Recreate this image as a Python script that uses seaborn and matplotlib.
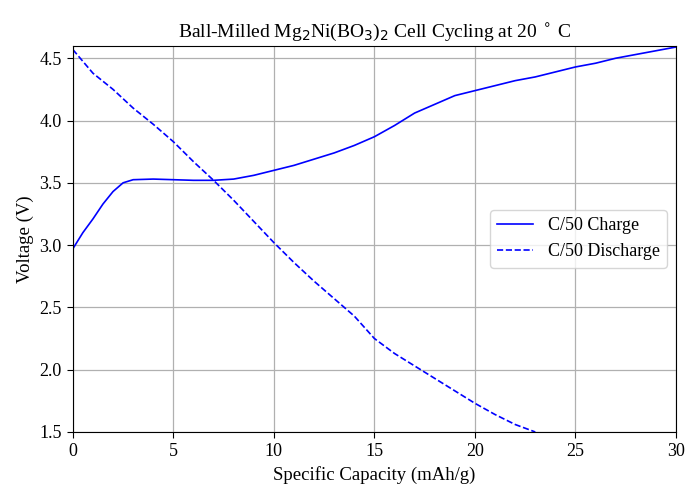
import matplotlib
matplotlib.use("Agg")
import matplotlib.pyplot as plt
import seaborn as sns
import numpy as np

charge_cap = [0, 0.5, 1, 1.5, 2, 2.5, 3, 4, 5, 6, 7, 8, 9, 10, 11, 12, 13, 14, 15, 16, 17, 18, 19, 20, 21, 22, 23, 24, 25, 26, 27, 28, 29, 30]
charge_v = [2.97, 3.1, 3.21, 3.33, 3.43, 3.50, 3.525, 3.53, 3.525, 3.52, 3.52, 3.53, 3.56, 3.6, 3.64, 3.69, 3.74, 3.8, 3.87, 3.96, 4.06, 4.13, 4.2, 4.24, 4.28, 4.32, 4.35, 4.39, 4.43, 4.46, 4.5, 4.53, 4.56, 4.59]

dis_cap = [0, 1, 2, 3, 4, 5, 6, 7, 8, 9, 10, 11, 12, 13, 14, 15, 16, 17, 18, 19, 20, 21, 22, 23]
dis_v = [4.57, 4.38, 4.25, 4.1, 3.97, 3.83, 3.67, 3.52, 3.36, 3.19, 3.02, 2.86, 2.71, 2.57, 2.43, 2.25, 2.13, 2.03, 1.93, 1.83, 1.73, 1.64, 1.56, 1.5]

plt.rcParams['font.family'] = ['Liberation Serif', 'DejaVu Serif']
plt.rcParams['mathtext.fontset'] = 'dejavusans'

fig = plt.figure(figsize=(6.87, 4.87), dpi=100)
ax = fig.add_axes([0.106, 0.113, 0.878, 0.793])

sns.lineplot(x=charge_cap, y=charge_v, ax=ax, color='blue', lw=1.2, sort=False, estimator=None, label='C/50 Charge')
sns.lineplot(x=dis_cap, y=dis_v, ax=ax, color='blue', lw=1.2, linestyle='--', sort=False, estimator=None, label='C/50 Discharge')

ax.set_xlim(0, 30)
ax.set_ylim(1.5, 4.6)
ax.set_xticks([0, 5, 10, 15, 20, 25, 30])
ax.set_yticks([1.5, 2.0, 2.5, 3.0, 3.5, 4.0, 4.5])
ax.grid(True, color='#b0b0b0', lw=0.9)
ax.set_axisbelow(True)
ax.tick_params(labelsize=13, length=4.5)
ax.set_xlabel('Specific Capacity (mAh/g)', fontsize=13.5)
ax.set_ylabel('Voltage (V)', fontsize=13.5)
ax.set_title(r'Ball-Milled Mg$_2$Ni(BO$_3$)$_2$ Cell Cycling at 20$\,^\circ\,$C', fontsize=14)
ax.legend(loc='center right', fontsize=13, framealpha=0.8)

fig.savefig('out.png', dpi=100)
